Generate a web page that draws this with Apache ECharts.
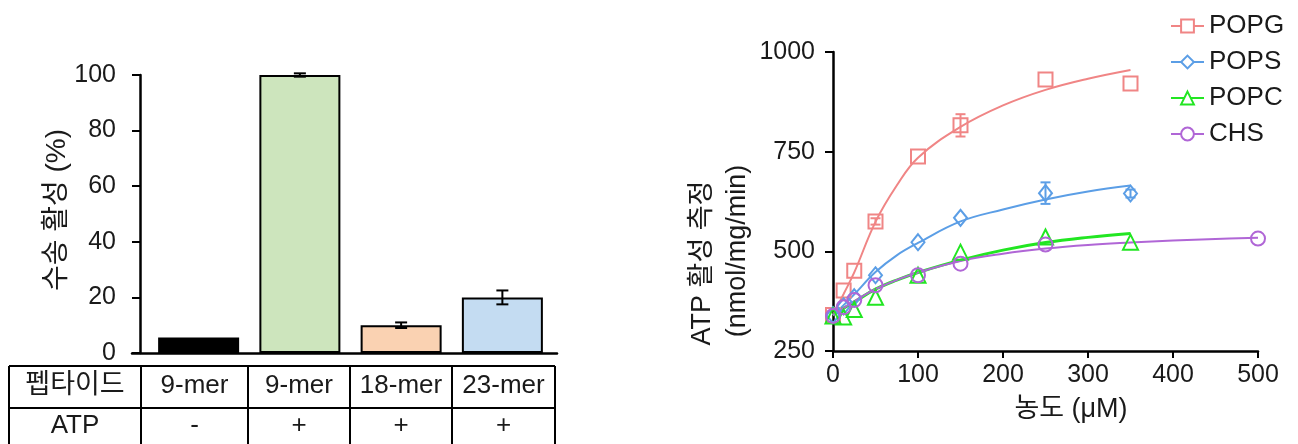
<!DOCTYPE html>
<html><head><meta charset="utf-8">
<script src="https://cdn.jsdelivr.net/npm/echarts@6/dist/echarts.min.js"></script>
<style>html,body{margin:0;padding:0;background:#fff}#c{width:1298px;height:444px}</style>
</head><body><div id="c"></div><script>
// ---------- left panel data ----------
const barCategories = ['9-mer -', '9-mer +', '18-mer +', '23-mer +'];
const tableRowHeaders = ['펩타이드', 'ATP'];
const peptideRow = ['9-mer', '9-mer', '18-mer', '23-mer'];
const atpRow = ['-', '+', '+', '+'];
const barValues = [5.6, 100, 10, 20];
const barErrors = [0, 0.6, 1, 2.5];
const barColors = ['#000000', '#cde5bd', '#fad2b2', '#c4dcf2'];

// ---------- right panel data ----------
const seriesNames = ['POPG', 'POPS', 'POPC', 'CHS'];
const seriesColors = ['#f08585', '#5b9ee6', '#22e622', '#b066d6'];
const concX = [0, 12.5, 25, 50, 100, 150, 250, 350];
const chsX = [0, 12.5, 25, 50, 100, 150, 250, 500];
const popgY = [340, 402, 451, 575, 738, 816, 931, 921];
const popsY = [340, 362, 385, 440, 523, 584, 646, 645];
const popcY = [338, 335, 354, 385, 440, 498, 536, 523];
const chsY = [338, 360, 378, 415, 440, 469, 517, 532];
const popgErr = [0, 0, 0, 8, 0, 28, 0, 0];
const popsErr = [0, 0, 0, 0, 0, 0, 27, 10];
const popcErr = [0, 0, 0, 0, 0, 0, 0, 0];
const chsErr = [0, 0, 0, 0, 0, 0, 0, 0];
// fitted curves
const curveX = [0, 12.5, 25, 50, 75, 100, 150, 200, 250, 300, 350];
const chsCurveX = [0, 12.5, 25, 50, 75, 100, 150, 200, 250, 300, 350, 400, 450, 500];
const popgCurve = [340, 393, 447, 574, 665, 735, 812, 866, 905, 933, 955];
const popsCurve = [340, 365, 392, 448, 490, 521, 575, 605, 630, 650, 665];
const popcCurve = [340, 357, 373, 405, 428, 447, 478, 503, 522, 535, 545];
const chsCurve = [340, 358, 375, 405, 428, 447, 476, 494, 507, 516, 522, 527, 531, 534];
const xTicksRight = { min: 0, max: 500, interval: 100 };
const yTicksRight = { min: 250, max: 1000, interval: 250 };
const yTicksLeft = { min: 0, max: 100, interval: 20 };

const FONT = '"Liberation Sans", Arial, "Noto Sans CJK KR", sans-serif';
const TXT = '#1a1a1a';

const pointSets = [
  { x: concX, y: popgY, e: popgErr, cx: curveX, cy: popgCurve, sym: 'rect', size: 14, lw: 2 },
  { x: concX, y: popsY, e: popsErr, cx: curveX, cy: popsCurve, sym: 'diamond', size: [13, 16], lw: 2 },
  { x: concX, y: popcY, e: popcErr, cx: curveX, cy: popcCurve, sym: 'triangle', size: 15, lw: 3 },
  { x: chsX, y: chsY, e: chsErr, cx: chsCurveX, cy: chsCurve, sym: 'circle', size: 14, lw: 2 }
];

const series = [];
// curves first (legend icons come from them)
pointSets.forEach((s, i) => {
  series.push({
    name: seriesNames[i], type: 'line', xAxisIndex: 2, yAxisIndex: 2,
    data: s.cx.map((x, j) => [x, s.cy[j]]), smooth: 0.4, showSymbol: false,
    symbol: 'empty' + s.sym.charAt(0).toUpperCase() + s.sym.slice(1), symbolSize: 12,
    lineStyle: { color: seriesColors[i], width: s.lw }, itemStyle: { color: seriesColors[i] },
    silent: true, z: 3
  });
});
pointSets.forEach((s, i) => {
  series.push({
    name: seriesNames[i], type: 'scatter', xAxisIndex: 2, yAxisIndex: 2,
    data: s.x.map((x, j) => [x, s.y[j]]), symbol: s.sym, symbolSize: s.size,
    itemStyle: { color: 'rgba(255,255,255,0)', borderColor: seriesColors[i], borderWidth: 2, opacity: 1 },
    z: 4
  });
  series.push({
    name: seriesNames[i], type: 'custom', xAxisIndex: 2, yAxisIndex: 2,
    data: s.x.map((x, j) => [x, s.y[j] - s.e[j], s.y[j] + s.e[j]]).filter((d, j) => s.e[j] > 0),
    renderItem: function (params, api) {
      const lo = api.coord([api.value(0), api.value(1)]);
      const hi = api.coord([api.value(0), api.value(2)]);
      const w = 5;
      const st = { stroke: seriesColors[i], lineWidth: 2 };
      return { type: 'group', children: [
        { type: 'line', shape: { x1: lo[0], y1: lo[1], x2: hi[0], y2: hi[1] }, style: st },
        { type: 'line', shape: { x1: lo[0] - w, y1: lo[1], x2: lo[0] + w, y2: lo[1] }, style: st },
        { type: 'line', shape: { x1: hi[0] - w, y1: hi[1], x2: hi[0] + w, y2: hi[1] }, style: st }
      ]};
    }, z: 4
  });
});

// bars
series.push({
  type: 'bar', xAxisIndex: 0, yAxisIndex: 0, barWidth: '80%',
  data: barValues.map((v, i) => ({ value: v, itemStyle: { color: barColors[i] } })),
  itemStyle: { borderColor: '#000', borderWidth: 2 }, z: 2
});
series.push({
  type: 'custom', xAxisIndex: 0, yAxisIndex: 0,
  data: barValues.map((v, i) => [i, v - barErrors[i], v + barErrors[i]]).filter((d, i) => barErrors[i] > 0),
  renderItem: function (params, api) {
    const lo = api.coord([api.value(0), api.value(1)]);
    const hi = api.coord([api.value(0), api.value(2)]);
    const w = 6;
    const st = { stroke: '#000', lineWidth: 2 };
    return { type: 'group', children: [
      { type: 'line', shape: { x1: lo[0], y1: lo[1], x2: hi[0], y2: hi[1] }, style: st },
      { type: 'line', shape: { x1: lo[0] - w, y1: lo[1], x2: lo[0] + w, y2: lo[1] }, style: st },
      { type: 'line', shape: { x1: hi[0] - w, y1: hi[1], x2: hi[0] + w, y2: hi[1] }, style: st }
    ]};
  }, z: 5
});

// table graphic (layout)
const colEdges = [9, 141, 248, 350, 452, 555];
const rowEdges = [366, 408, 452];
const rowTextY = [386, 426];
const g = [];
rowEdges.forEach(y => g.push({ type: 'line', shape: { x1: colEdges[0], y1: y, x2: colEdges[colEdges.length - 1], y2: y }, style: { stroke: '#000', lineWidth: 2 } }));
colEdges.forEach(x => g.push({ type: 'line', shape: { x1: x, y1: rowEdges[0], x2: x, y2: rowEdges[rowEdges.length - 1] }, style: { stroke: '#000', lineWidth: 2 } }));
const rows = [[tableRowHeaders[0]].concat(peptideRow), [tableRowHeaders[1]].concat(atpRow)];
rows.forEach((r, ri) => r.forEach((t, ci) => g.push({
  type: 'text', x: (colEdges[ci] + colEdges[ci + 1]) / 2, y: rowTextY[ri],
  style: { text: t, fill: TXT, font: (ci === 0 && ri === 0 ? '27px ' : '26px ') + FONT, textAlign: 'center', textVerticalAlign: 'middle' }
})));
g.push({ type: 'text', x: 57, y: 210, rotation: Math.PI / 2,
  style: { text: '수송 활성 (%)', fill: TXT, font: '28px ' + FONT, textAlign: 'center', textVerticalAlign: 'middle' } });
g.push({ type: 'text', x: 703, y: 263, rotation: Math.PI / 2,
  style: { text: 'ATP 활성 측정', fill: TXT, font: '27px ' + FONT, textAlign: 'center', textVerticalAlign: 'middle' } });
g.push({ type: 'text', x: 738, y: 251, rotation: Math.PI / 2,
  style: { text: '(nmol/mg/min)', fill: TXT, font: '27px ' + FONT, textAlign: 'center', textVerticalAlign: 'middle' } });
g.push({ type: 'text', x: 1071, y: 410,
  style: { text: '농도 (μM)', fill: TXT, font: '27px ' + FONT, textAlign: 'center', textVerticalAlign: 'middle' } });

const axisLine = { show: true, lineStyle: { color: '#000', width: 2.5 } };
const option = {
  animation: false,
  backgroundColor: '#fff',
  textStyle: { fontFamily: FONT },
  grid: [
    { left: 148, width: 405, top: 75, height: 278, containLabel: false, outerBoundsMode: 'none' },
    { left: 132, width: 425, top: 75, height: 278, containLabel: false, outerBoundsMode: 'none' },
    { left: 833, width: 425, top: 52, height: 299, containLabel: false, outerBoundsMode: 'none' }
  ],
  legend: {
    data: seriesNames, orient: 'vertical', left: 1165, top: 8,
    itemWidth: 33, itemHeight: 16, itemGap: 10,
    textStyle: { fontSize: 26, color: TXT, fontFamily: FONT, lineHeight: 26 },
    selectedMode: false
  },
  xAxis: [
    { gridIndex: 0, type: 'category', data: barCategories, axisLine: { show: false }, axisTick: { show: false }, axisLabel: { show: false }, splitLine: { show: false } },
    { gridIndex: 1, type: 'value', min: 0, max: 1, axisLine: axisLine, axisTick: { show: false }, axisLabel: { show: false }, splitLine: { show: false } },
    { gridIndex: 2, type: 'value', min: xTicksRight.min, max: xTicksRight.max, interval: xTicksRight.interval,
      axisLine: axisLine, axisTick: { show: true, length: 7, lineStyle: { color: '#000', width: 2 } },
      axisLabel: { fontSize: 25, color: TXT, margin: 12 }, splitLine: { show: false } }
  ],
  yAxis: [
    { gridIndex: 0, type: 'value', min: yTicksLeft.min, max: yTicksLeft.max, interval: yTicksLeft.interval, offset: 8,
      axisLine: axisLine, axisTick: { show: true, length: 8, lineStyle: { color: '#000', width: 2 } },
      axisLabel: { fontSize: 25, color: TXT, margin: 24 }, splitLine: { show: false } },
    { gridIndex: 1, type: 'value', min: 0, max: 100, show: false },
    { gridIndex: 2, type: 'value', min: yTicksRight.min, max: yTicksRight.max, interval: yTicksRight.interval,
      axisLine: axisLine, axisTick: { show: true, length: 8, lineStyle: { color: '#000', width: 2 } },
      axisLabel: { fontSize: 25, color: TXT, margin: 18, formatter: v => String(v) }, splitLine: { show: false } }
  ],
  graphic: g,
  series: series
};
const chart = echarts.init(document.getElementById('c'), null, { renderer: 'canvas' });
chart.setOption(option);
</script></body></html>
